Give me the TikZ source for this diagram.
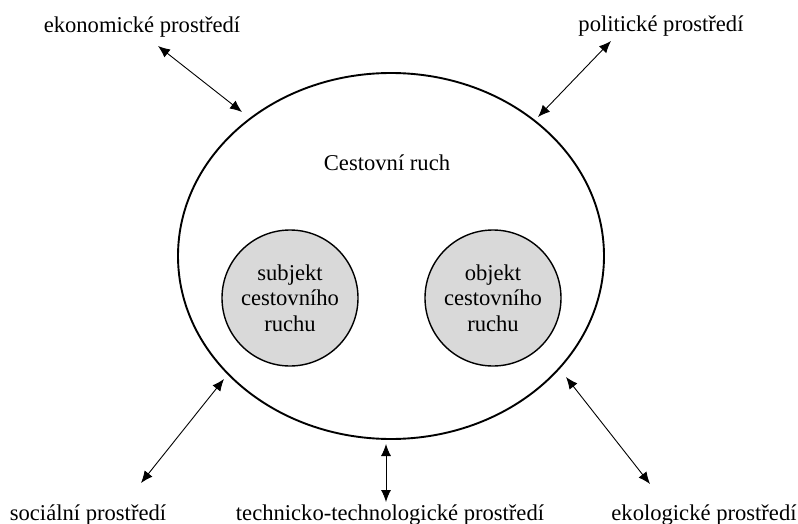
\documentclass[tikz,border=0pt]{standalone}
\usepackage{fontspec}
\setmainfont{Liberation Serif}
\usetikzlibrary{arrows.meta,shapes.geometric}
\begin{document}
\begin{tikzpicture}[x=1pt,y=-1pt,
  font=\fontsize{22.6}{25.5}\selectfont,
  vazba/.style={{Latex[length=12pt,width=10pt]}-{Latex[length=12pt,width=10pt]},line width=0.9pt},
  cast/.style={circle,draw,line width=1.4pt,fill=gray!30,minimum size=136pt,inner sep=0pt,align=center}]
\useasboundingbox (0,0) rectangle (798,524);

% Central ellipse
\node[ellipse,draw,line width=1.9pt,minimum width=426pt,minimum height=366pt,inner sep=0pt] (ruch) at (391,256) {};
\node[anchor=base] (nazev) at (387,171) {Cestovní ruch};

% Inner circles
\node[cast] (subjekt) at (290,298) {subjekt\\cestovního\\ruchu};
\node[cast] (objekt) at (493,298) {objekt\\cestovního\\ruchu};

% Environments
\node[anchor=base] (eko) at (142,33) {ekonomické prostředí};
\node[anchor=base] (pol) at (661,32) {politické prostředí};
\node[anchor=base] (soc) at (88,520) {sociální prostředí};
\node[anchor=base] (tech) at (390,520) {technicko-technologické prostředí};
\node[anchor=base] (ekol) at (704,520) {ekologické prostředí};

% Arrow ends
\coordinate (eko1) at (158,46);  \coordinate (eko2) at (242,112);
\coordinate (pol1) at (611,41);  \coordinate (pol2) at (538,117);
\coordinate (soc1) at (224,379); \coordinate (soc2) at (141,483);
\coordinate (tech1) at (386,444); \coordinate (tech2) at (386,502);
\coordinate (ekol1) at (566,377); \coordinate (ekol2) at (650,484);

% Arrows
\draw[vazba] (eko1) -- (eko2);
\draw[vazba] (pol1) -- (pol2);
\draw[vazba] (soc1) -- (soc2);
\draw[vazba] (tech1) -- (tech2);
\draw[vazba] (ekol1) -- (ekol2);

\end{tikzpicture}
\end{document}
